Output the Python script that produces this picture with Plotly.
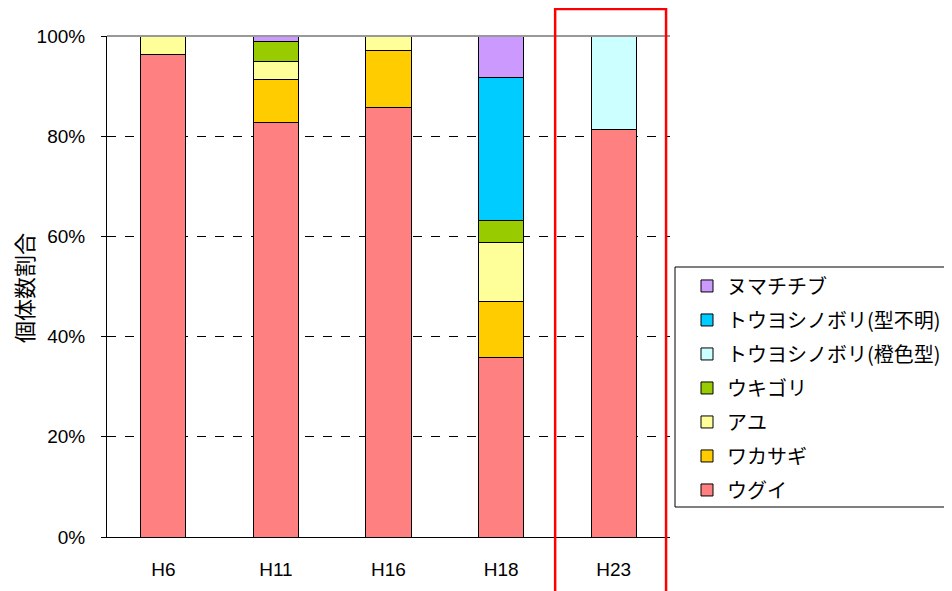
import plotly.graph_objects as go

categories = ["H6", "H11", "H16", "H18", "H23"]
species = ["ウグイ", "ワカサギ", "アユ", "ウキゴリ", "トウヨシノボリ(橙色型)", "トウヨシノボリ(型不明)", "ヌマチチブ"]
ugui = [96.4, 82.8, 85.8, 35.9, 81.4]
wakasagi = [0, 8.6, 11.4, 11.2, 0]
ayu = [3.6, 3.6, 2.8, 11.6, 0]
ukigori = [0, 4.0, 0, 4.4, 0]
toyo_orange = [0, 0, 0, 0, 18.6]
toyo_unknown = [0, 0, 0, 28.7, 0]
numachichibu = [0, 1.0, 0, 8.2, 0]
series = [ugui, wakasagi, ayu, ukigori, toyo_orange, toyo_unknown, numachichibu]
colors = ["#FF8080", "#FFCC00", "#FFFF99", "#99CC00", "#CCFFFF", "#00CCFF", "#CC99FF"]
y_ticks = [0, 20, 40, 60, 80, 100]
y_tick_labels = ["0%", "20%", "40%", "60%", "80%", "100%"]
y_title = "個体数割合"

PLOT_L, PLOT_W, PLOT_B, PLOT_H = 107, 563, 537, 501

fig = go.Figure()
n = len(species)
for i, (name, vals, col) in enumerate(zip(species, series, colors)):
    fig.add_trace(go.Bar(
        x=categories, y=vals, name=name, legendgroup=name, legendrank=100 + (n - i),
        marker=dict(color=col, line=dict(color="black", width=1)),
    ))

fig.update_layout(
    barmode="stack",
    bargap=0.6,
    width=952, height=591,
    margin=dict(l=99, r=290, t=28, b=62, autoexpand=False),
    plot_bgcolor="white", paper_bgcolor="white",
    font=dict(family="Liberation Sans, Arial", size=19, color="black"),
    showlegend=True,
    legend=dict(
        traceorder="grouped", tracegroupgap=5,
        x=(675 - PLOT_L) / PLOT_W, y=0.54, xanchor="left", yanchor="top",
        borderwidth=0, bgcolor="rgba(0,0,0,0)",
        font=dict(family="Noto Sans CJK JP", size=20),
        itemwidth=30, indentation=12,
    ),
    xaxis=dict(
        showline=True, linecolor="black", linewidth=1, mirror=False,
        ticks="", tickfont=dict(size=19), range=[-0.5, 4.5],
        ticklabelstandoff=15, automargin=False,
    ),
    yaxis=dict(
        range=[0, 100], tickvals=y_ticks, ticktext=y_tick_labels,
        showline=True, linecolor="black", linewidth=1,
        ticks="outside", ticklen=5, tickcolor="black",
        showgrid=True, gridcolor="black", griddash="dash", gridwidth=1,
        zeroline=False, automargin=False,
        tickfont=dict(size=19),
        ticklabelstandoff=12,
    ),
)

# y-axis title
fig.add_annotation(text=y_title, textangle=-90, xref="paper", yref="paper",
                   x=(23 - PLOT_L) / PLOT_W, y=(PLOT_B - 288) / PLOT_H,
                   xanchor="center", yanchor="middle", showarrow=False,
                   font=dict(family="Noto Sans CJK JP", size=22, color="black"))

# legend frame (extends past the right edge like the original)
fig.add_shape(type="rect", xref="paper", yref="paper",
              x0=(675 - PLOT_L) / PLOT_W, x1=(960 - PLOT_L) / PLOT_W,
              y0=(PLOT_B - 507) / PLOT_H, y1=(PLOT_B - 267) / PLOT_H,
              line=dict(color="black", width=1), fillcolor="white", layer="below")
# top border at 100%
fig.add_shape(type="line", xref="paper", yref="paper", x0=0, x1=1, y0=1, y1=1,
              line=dict(color="#999999", width=2))
# red highlight rectangle around H23
fig.add_shape(type="rect", xref="paper", yref="paper", x0=0.796, x1=0.993, y0=-0.125, y1=1.054,
              line=dict(color="red", width=2.5), fillcolor="rgba(0,0,0,0)")

fig.write_html("out.html")
